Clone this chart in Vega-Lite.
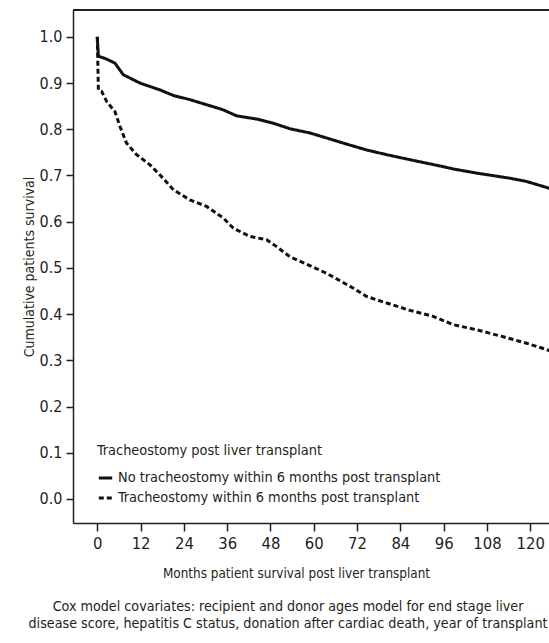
{
  "$schema": "https://vega.github.io/schema/vega-lite/v6.json",
  "autosize": "none",
  "padding": {"left": 73, "top": 10, "right": 0, "bottom": 120},
  "width": 476,
  "height": 513,
  "background": "white",
  "config": {
    "font": "'DejaVu Sans Condensed', 'Liberation Sans Narrow', 'Roboto', sans-serif",
    "view": {"stroke": null},
    "axis": {"grid": false, "domain": true, "domainColor": "#231f20", "domainWidth": 1.5, "tickColor": "#231f20", "tickWidth": 1.5, "labelColor": "#231f20", "titleColor": "#231f20", "titleFontWeight": "normal"},
    "legend": {}
  },
  "title": {
    "text": ["Cox model covariates: recipient and donor ages model for end stage liver", "disease score, hepatitis C status, donation after cardiac death, year of transplant"],
    "orient": "bottom",
    "anchor": "middle",
    "frame": "group",
    "fontSize": 14.2,
    "fontWeight": "normal",
    "color": "#231f20",
    "dx": -23,
    "offset": 20,
    "lineHeight": 17
  },
  "data": {
    "values": [
      {"t": 0, "s": 1.0, "g": "No tracheostomy within 6 months post transplant"},
      {"t": 0.3, "s": 0.958, "g": "No tracheostomy within 6 months post transplant"},
      {"t": 0.75, "s": 0.957, "g": "No tracheostomy within 6 months post transplant"},
      {"t": 2.5, "s": 0.952, "g": "No tracheostomy within 6 months post transplant"},
      {"t": 4.9, "s": 0.943, "g": "No tracheostomy within 6 months post transplant"},
      {"t": 7.2, "s": 0.918, "g": "No tracheostomy within 6 months post transplant"},
      {"t": 11.8, "s": 0.9, "g": "No tracheostomy within 6 months post transplant"},
      {"t": 17.4, "s": 0.885, "g": "No tracheostomy within 6 months post transplant"},
      {"t": 21.1, "s": 0.873, "g": "No tracheostomy within 6 months post transplant"},
      {"t": 25.7, "s": 0.864, "g": "No tracheostomy within 6 months post transplant"},
      {"t": 30.3, "s": 0.853, "g": "No tracheostomy within 6 months post transplant"},
      {"t": 34.9, "s": 0.842, "g": "No tracheostomy within 6 months post transplant"},
      {"t": 38.6, "s": 0.829, "g": "No tracheostomy within 6 months post transplant"},
      {"t": 44.2, "s": 0.822, "g": "No tracheostomy within 6 months post transplant"},
      {"t": 48.8, "s": 0.813, "g": "No tracheostomy within 6 months post transplant"},
      {"t": 53.4, "s": 0.801, "g": "No tracheostomy within 6 months post transplant"},
      {"t": 58.9, "s": 0.792, "g": "No tracheostomy within 6 months post transplant"},
      {"t": 63.6, "s": 0.781, "g": "No tracheostomy within 6 months post transplant"},
      {"t": 68.2, "s": 0.77, "g": "No tracheostomy within 6 months post transplant"},
      {"t": 74.7, "s": 0.755, "g": "No tracheostomy within 6 months post transplant"},
      {"t": 80.2, "s": 0.745, "g": "No tracheostomy within 6 months post transplant"},
      {"t": 86.7, "s": 0.734, "g": "No tracheostomy within 6 months post transplant"},
      {"t": 95.9, "s": 0.719, "g": "No tracheostomy within 6 months post transplant"},
      {"t": 98.7, "s": 0.714, "g": "No tracheostomy within 6 months post transplant"},
      {"t": 105.2, "s": 0.705, "g": "No tracheostomy within 6 months post transplant"},
      {"t": 114.4, "s": 0.694, "g": "No tracheostomy within 6 months post transplant"},
      {"t": 119.0, "s": 0.687, "g": "No tracheostomy within 6 months post transplant"},
      {"t": 125.8, "s": 0.671, "g": "No tracheostomy within 6 months post transplant"},
      {"t": 0, "s": 1.0, "g": "Tracheostomy within 6 months post transplant"},
      {"t": 0.3, "s": 0.885, "g": "Tracheostomy within 6 months post transplant"},
      {"t": 1.2, "s": 0.882, "g": "Tracheostomy within 6 months post transplant"},
      {"t": 2.6, "s": 0.86, "g": "Tracheostomy within 6 months post transplant"},
      {"t": 4.9, "s": 0.838, "g": "Tracheostomy within 6 months post transplant"},
      {"t": 6.3, "s": 0.806, "g": "Tracheostomy within 6 months post transplant"},
      {"t": 8.1, "s": 0.77, "g": "Tracheostomy within 6 months post transplant"},
      {"t": 10.9, "s": 0.745, "g": "Tracheostomy within 6 months post transplant"},
      {"t": 14.6, "s": 0.723, "g": "Tracheostomy within 6 months post transplant"},
      {"t": 17.4, "s": 0.701, "g": "Tracheostomy within 6 months post transplant"},
      {"t": 21.1, "s": 0.669, "g": "Tracheostomy within 6 months post transplant"},
      {"t": 25.7, "s": 0.647, "g": "Tracheostomy within 6 months post transplant"},
      {"t": 30.3, "s": 0.633, "g": "Tracheostomy within 6 months post transplant"},
      {"t": 34.9, "s": 0.608, "g": "Tracheostomy within 6 months post transplant"},
      {"t": 37.7, "s": 0.586, "g": "Tracheostomy within 6 months post transplant"},
      {"t": 42.3, "s": 0.568, "g": "Tracheostomy within 6 months post transplant"},
      {"t": 46.9, "s": 0.561, "g": "Tracheostomy within 6 months post transplant"},
      {"t": 49.7, "s": 0.546, "g": "Tracheostomy within 6 months post transplant"},
      {"t": 53.4, "s": 0.524, "g": "Tracheostomy within 6 months post transplant"},
      {"t": 58.9, "s": 0.505, "g": "Tracheostomy within 6 months post transplant"},
      {"t": 63.6, "s": 0.488, "g": "Tracheostomy within 6 months post transplant"},
      {"t": 71.0, "s": 0.456, "g": "Tracheostomy within 6 months post transplant"},
      {"t": 74.7, "s": 0.438, "g": "Tracheostomy within 6 months post transplant"},
      {"t": 80.2, "s": 0.424, "g": "Tracheostomy within 6 months post transplant"},
      {"t": 86.7, "s": 0.408, "g": "Tracheostomy within 6 months post transplant"},
      {"t": 93.1, "s": 0.395, "g": "Tracheostomy within 6 months post transplant"},
      {"t": 98.7, "s": 0.377, "g": "Tracheostomy within 6 months post transplant"},
      {"t": 105.2, "s": 0.366, "g": "Tracheostomy within 6 months post transplant"},
      {"t": 112.5, "s": 0.351, "g": "Tracheostomy within 6 months post transplant"},
      {"t": 119.0, "s": 0.337, "g": "Tracheostomy within 6 months post transplant"},
      {"t": 125.8, "s": 0.32, "g": "Tracheostomy within 6 months post transplant"}
    ]
  },
  "layer": [
    {
      "mark": {"type": "rule", "color": "#231f20", "strokeWidth": 1.5},
      "encoding": {"y": {"datum": 1.058, "type": "quantitative"}}
    },
    {
      "mark": {"type": "line", "color": "#111111", "strokeWidth": 3, "clip": true, "interpolate": "linear"},
      "encoding": {
        "x": {
          "field": "t", "type": "quantitative",
          "scale": {"domain": [-6.73, 125.2], "nice": false, "zero": false},
          "axis": {"values": [0, 12, 24, 36, 48, 60, 72, 84, 96, 108, 120], "title": "Months patient survival post liver transplant", "labelFontSize": 16.5, "titleFontSize": 13.4, "tickSize": 8, "labelPadding": 4, "titlePadding": 15, "titleX": 223}
        },
        "y": {
          "field": "s", "type": "quantitative",
          "scale": {"domain": [-0.052, 1.058], "nice": false, "zero": false},
          "axis": {"values": [0, 0.1, 0.2, 0.3, 0.4, 0.5, 0.6, 0.7, 0.8, 0.9, 1.0], "format": ".1f", "title": "Cumulative patients survival", "labelFontSize": 16, "titleFontSize": 14, "tickSize": 7, "labelPadding": 4, "titlePadding": 3}
        },
        "strokeDash": {
          "field": "g", "type": "nominal",
          "scale": {"domain": ["No tracheostomy within 6 months post transplant", "Tracheostomy within 6 months post transplant"], "range": [[1, 0], [5, 3]]},
          "legend": {
            "title": "Tracheostomy post liver transplant",
            "orient": "none",
            "legendX": 24,
            "legendY": 434,
            "titleFontSize": 14.4,
            "titleFontWeight": "normal",
            "titleColor": "#231f20",
            "titlePadding": 11,
            "titleLimit": 0,
            "labelFontSize": 14.4,
            "labelColor": "#231f20",
            "labelOffset": 4,
            "labelLimit": 0,
            "rowPadding": 5,
            "symbolStrokeWidth": 3,
            "symbolStrokeColor": "#111111",
            "symbolSize": 180,
            "symbolType": "stroke"
          }
        }
      }
    }
  ]
}
